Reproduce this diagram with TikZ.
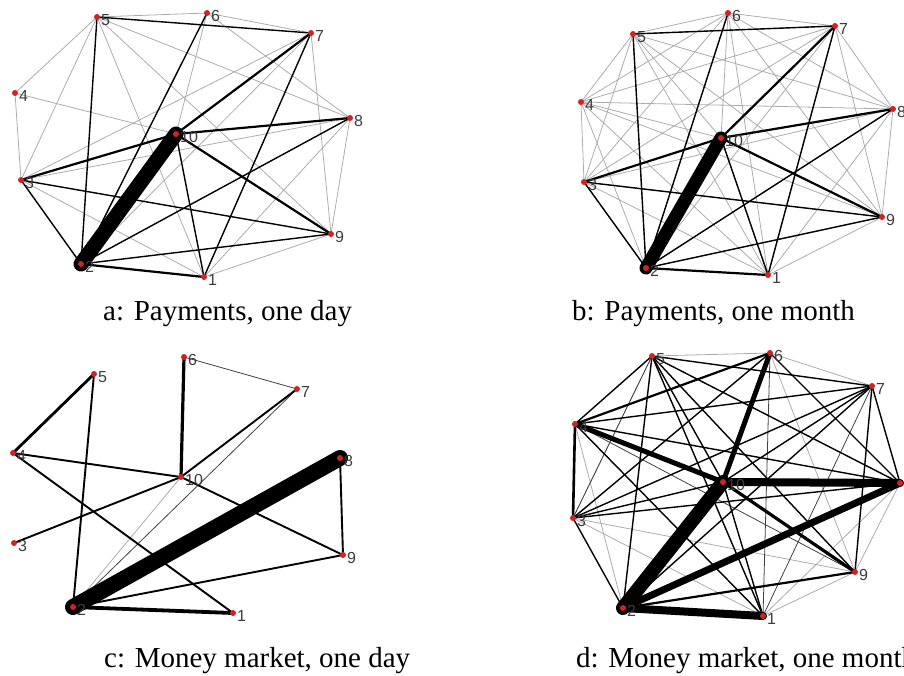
\documentclass[tikz,border=0pt]{standalone}
\usepackage{fontspec}
\setmainfont{Liberation Serif}
\newfontfamily\numfont{Liberation Sans}
\definecolor{nodered}{RGB}{210,35,35}
\definecolor{litegray}{RGB}{172,172,172}
\definecolor{lblgray}{RGB}{60,60,60}
\begin{document}
\begin{tikzpicture}[x=1pt,y=-1pt,line cap=round,
  dot/.style={circle,fill=nodered,inner sep=0pt,minimum size=6pt},
  numlbl/.style={font=\numfont\fontsize{16}{16}\selectfont,text=lblgray,inner sep=0pt,anchor=west,xshift=4pt,yshift=-3pt},
  caption/.style={font=\fontsize{29}{34}\selectfont,inner sep=0pt,anchor=base west},
  lite/.style={draw=litegray,line width=0.8pt},
  mid/.style={draw=black!75,line width=0.8pt},
  dark/.style={draw=black,line width=1.4pt},
  bold/.style={draw=black,line width=#1},
  bold/.default=2.2pt]
\useasboundingbox (0,0) rectangle (904,675);
\foreach \n/\x/\y in {1/204/277,2/81/264,3/21/180,4/15/93,5/97/17,6/207/13,7/311/33,8/350/118,9/331/234,10/176/134}
  \coordinate (a\n) at (\x,\y);
\foreach \n/\x/\y in {1/768/275,2/646/268,3/584/182,4/581/102,5/633/34,6/728/13,7/835/26,8/893/109,9/882/217,10/721/138}
  \coordinate (b\n) at (\x,\y);
\foreach \n/\x/\y in {1/233/613,2/73/607,3/14/543,4/13/453,5/94/374,6/184/357,7/297/389,8/340/458,9/343/555,10/181/477}
  \coordinate (c\n) at (\x,\y);
\foreach \n/\x/\y in {1/763/616,2/623/608,3/573/518,4/575/424,5/652/356,6/770/353,7/872/386,8/900/483,9/855/572,10/723/482}
  \coordinate (d\n) at (\x,\y);
\foreach \s/\t in {5/6,6/7,5/4,4/3,4/10,5/3,5/1,5/8,5/9,6/8,6/10,7/3,7/9,8/9,8/3,8/1,3/1,9/1,2/7}
  \draw[lite] (a\s) -- (a\t);
\foreach \s/\t in {5/7,5/2,6/2,7/1,8/2,10/1,3/9,3/2,9/2}
  \draw[dark] (a\s) -- (a\t);
\foreach \s/\t in {7/10,8/10,10/3,10/9,2/1}
  \draw[bold] (a\s) -- (a\t);
\draw[bold=15pt] (a10) -- (a2);
\foreach \i in {1,...,9}{
  \pgfmathtruncatemacro\k{\i+1}
  \foreach \j in {\k,...,10}
    \draw[lite] (b\i) -- (b\j);
}
\foreach \s/\t in {5/7,5/2,6/2,7/1,8/2,10/1,3/9,3/2,9/2}
  \draw[dark] (b\s) -- (b\t);
\foreach \s/\t in {7/10,8/10,10/3,10/9,2/1}
  \draw[bold] (b\s) -- (b\t);
\draw[bold=13pt] (b10) -- (b2);
\draw[lite] (c10) -- (c2);
\draw[mid] (c6) -- (c7) (c7) -- (c2);
\foreach \s/\t in {5/2,7/10,4/10,4/1,3/10,10/9,8/9,9/2}
  \draw[bold=1.9pt] (c\s) -- (c\t);
\draw[bold=2.8pt] (c5) -- (c4);
\draw[bold=3.2pt] (c6) -- (c10);
\draw[bold=3.8pt] (c2) -- (c1);
\draw[bold=16pt] (c8) -- (c2);
\foreach \s/\t in {5/6,6/7,4/2,6/9,8/9,8/1,3/9,3/1,9/1,3/5}
  \draw[lite] (d\s) -- (d\t);
\foreach \s/\t in {6/1,7/1,4/9,5/3}
  \draw[mid] (d\s) -- (d\t);
\foreach \s/\t in {5/7,5/2,5/1,5/10,5/8,5/9,6/3,6/8,7/4,7/3,7/2,7/8,7/9,7/10,4/8,4/1,8/3,10/3,10/1,3/2,4/5}
  \draw[dark] (d\s) -- (d\t);
\draw[bold] (d2) -- (d9) (d4) -- (d6);
\draw[bold=2.6pt] (d4) -- (d3);
\draw[bold=3.2pt] (d10) -- (d9);
\draw[bold=5pt] (d4) -- (d10) (d6) -- (d10);
\draw[bold=7pt] (d8) -- (d2);
\draw[bold=8pt] (d10) -- (d8) (d2) -- (d1);
\draw[bold=14pt] (d10) -- (d2);
\foreach \p in {a,b,c,d}
  \foreach \n in {1,...,10}{
    \node[dot] (\p\n-dot) at (\p\n) {};
    \node[numlbl] (\p\n-lbl) at (\p\n) {\n};
  }
\node[caption] (cap-a) at (103,320) {a: Payments, one day};
\node[caption] (cap-b) at (572,320) {b: Payments, one month};
\node[caption] (cap-c) at (104,667) {c: Money market, one day};
\node[caption] (cap-d) at (576,667) {d: Money market, one month};
\end{tikzpicture}
\end{document}
